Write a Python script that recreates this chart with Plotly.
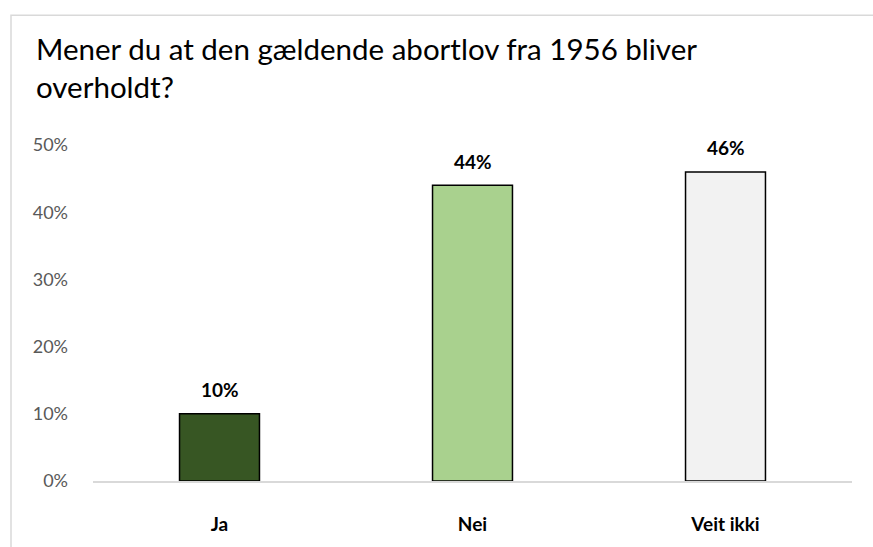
import plotly.graph_objects as go

categories = ["Ja", "Nei", "Veit ikki"]
values = [0.10, 0.44, 0.46]
labels = ["10%", "44%", "46%"]
colors = ["#375623", "#A9D18E", "#F2F2F2"]
y_ticks = [0, 0.1, 0.2, 0.3, 0.4, 0.5]
y_tick_text = ["0%", "10%", "20%", "30%", "40%", "50%"]
title_text = "Mener du at den gældende abortlov fra 1956 bliver<br>overholdt?"

W, H = 873, 547
ml, mr, mt, mb = 93, 21, 145, 55
pw, ph = W - ml - mr, H - mt - mb

fig = go.Figure()
fig.add_trace(go.Bar(
    x=categories, y=values,
    marker=dict(color=colors, line=dict(color="#000000", width=1.5)),
    width=0.316,
    hoverinfo="skip",
))

for c, v, t in zip(categories, values, labels):
    fig.add_annotation(x=c, y=v, text="<b>%s</b>" % t, showarrow=False,
                       yanchor="middle", yshift=24,
                       font=dict(size=19, color="#000000", family="Lato"))

def px2paper_x(px):
    return (px - ml) / pw

def py2paper_y(py):
    return (H - mb - py) / ph

fig.add_shape(type="rect", xref="paper", yref="paper",
              x0=px2paper_x(11), x1=px2paper_x(W + 20),
              y0=py2paper_y(H + 20), y1=py2paper_y(11),
              line=dict(color="#D9D9D9", width=1.5), fillcolor="rgba(0,0,0,0)", layer="below")

fig.update_layout(
    width=W, height=H,
    margin=dict(l=ml, r=mr, t=mt, b=mb, pad=0),
    paper_bgcolor="white", plot_bgcolor="white",
    font=dict(family="Lato", color="#595959"),
    showlegend=False,
    title=dict(text=title_text, x=36 / W, xanchor="left", y=1 - 60 / H, yanchor="top",
               font=dict(size=29.5, color="#000000", family="Lato")),
    bargap=0.684,
    xaxis=dict(showgrid=False, showline=True, linecolor="#D9D9D9", linewidth=1.5,
               ticks="", tickfont=dict(size=19, color="#000000", family="Lato", weight="bold"),
               ticklabelstandoff=25, range=[-0.5, 2.5]),
    yaxis=dict(range=[0, 0.5], tickvals=y_ticks, ticktext=y_tick_text, showgrid=False,
               zeroline=False, showline=False, ticks="",
               tickfont=dict(size=18, color="#595959", family="Lato"),
               ticklabelstandoff=24),
)

fig.write_html("out.html", config={"displayModeBar": False},
               post_script=("var s=document.documentElement.style;s.margin='0';s.padding='0';"
                            "s.height='547px';s.overflow='hidden';"
                            "var b=document.body.style;b.margin='0';b.padding='0';"
                            "b.height='547px';b.overflow='hidden';"))
